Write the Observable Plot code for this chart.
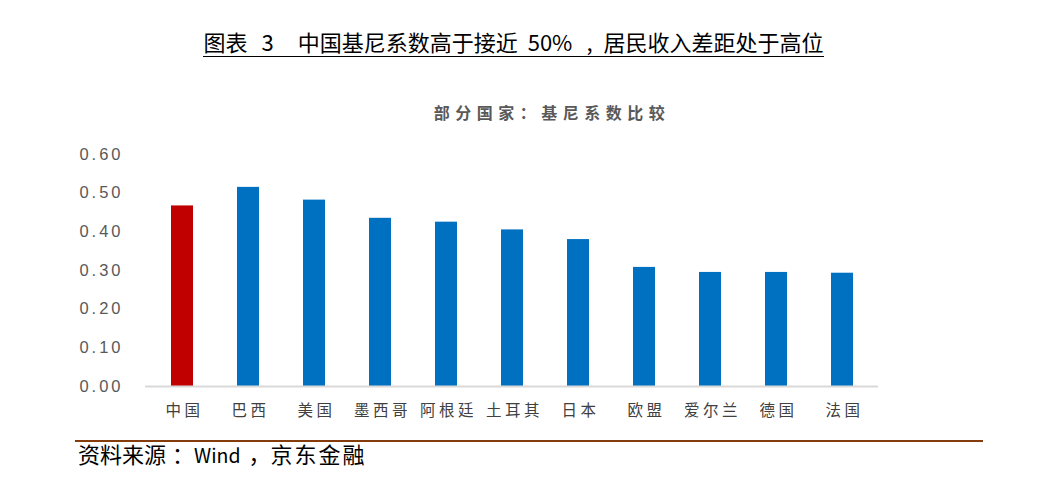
<!DOCTYPE html>
<html>
<head>
<meta charset="utf-8">
<script src="https://cdn.jsdelivr.net/npm/d3@7"></script>
<script src="https://cdn.jsdelivr.net/npm/@observablehq/plot@0.6"></script>
<style>
  html, body { margin: 0; padding: 0; background: #fff; }
  #wrap { position: relative; width: 1037px; height: 503px; overflow: hidden; font-family: "Noto Sans CJK SC", "Noto Sans", sans-serif; }
  #title { position: absolute; left: 0; width: 1027px; top: 25px; text-align: center; font-size: 22px; color: #000; white-space: nowrap; }
  #title .line { display: inline-block; border-bottom: 1.5px solid #000; line-height: 30px; }
  #title .s { display: inline-block; }
  #subtitle { position: absolute; left: 0; width: 1104px; top: 100px; text-align: center; font-size: 16px; font-weight: bold; color: #595959; letter-spacing: 5.5px; }
  #chart { position: absolute; left: 0; top: 140px; }
  #rule { position: absolute; left: 75px; width: 908px; top: 440px; height: 0; border-top: 2px solid #843C0C; }
  #source { position: absolute; left: 78px; top: 437px; font-size: 22px; color: #000; white-space: nowrap; }
  #source .s { display: inline-block; }
  #chart g[aria-label="y-axis tick label"] { letter-spacing: 3px; }
  #chart g[aria-label="x-axis tick label"] { letter-spacing: 3.5px; }
</style>
</head>
<body>
<div id="wrap">
  <div id="title"><span class="line"><span class="s">图表</span><span class="s" style="margin-left:14px">3</span><span class="s" style="margin-left:24px">中国基尼系数高于接近</span><span class="s" style="margin-left:10px">50%</span><span class="s" style="margin-left:14px">,</span><span class="s" style="margin-left:11px">居民收入差距处于高位</span></span></div>
  <div id="subtitle">部分国家：基尼系数比较</div>
  <div id="chart"></div>
  <div id="rule"></div>
  <div id="source"><span class="s">资料来源</span><span class="s" style="margin-left:6px">：</span><span class="s" style="font-size:19.5px">Wind</span><span class="s" style="margin-left:8px">，</span><span class="s" style="letter-spacing:2px">京东金融</span></div>
</div>
<script>
const categories = ["中国", "巴西", "美国", "墨西哥", "阿根廷", "土耳其", "日本", "欧盟", "爱尔兰", "德国", "法国"];
const giniValues = [0.467, 0.515, 0.482, 0.435, 0.425, 0.405, 0.380, 0.308, 0.295, 0.295, 0.293];
const highlighted = ["中国"];
const yTicks = [0, 0.1, 0.2, 0.3, 0.4, 0.5, 0.6];

const data = categories.map((c, i) => ({ country: c, value: giniValues[i] }));

const chart = Plot.plot({
  width: 1037,
  height: 286,
  marginTop: 14,
  marginBottom: 40,
  marginLeft: 145,
  marginRight: 159,
  style: { fontFamily: "'Noto Sans CJK SC', sans-serif", background: "transparent" },
  x: { domain: categories, paddingInner: 0.67, paddingOuter: 0.34, label: null },
  y: { domain: [0, 0.6], ticks: yTicks, label: null },
  marks: [
    Plot.barY(data, { x: "country", y: "value", fill: d => highlighted.includes(d.country) ? "#C00000" : "#0070C0" }),
    Plot.ruleY([0], { stroke: "#d9d9d9", strokeWidth: 2 }),
    Plot.axisY({ ticks: yTicks, tickFormat: d3.format(".2f"), tickSize: 0, tickPadding: 22, fontSize: 16.5, fill: "#595959", label: null, fontFamily: "'Liberation Sans', sans-serif" }),
    Plot.axisX({ tickSize: 0, tickPadding: 18, fontSize: 15.5, fill: "#404040", label: null, dx: 2 })
  ]
});
document.getElementById("chart").appendChild(chart);
</script>
</body>
</html>
